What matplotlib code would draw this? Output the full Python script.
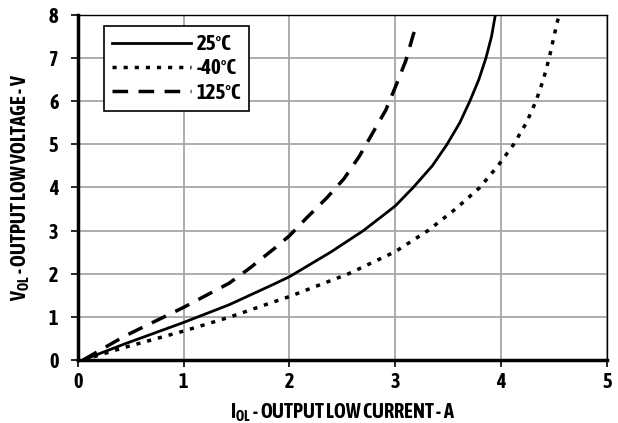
import os
import matplotlib
matplotlib.use("Agg")
import matplotlib.pyplot as plt
from matplotlib import font_manager as fm

# curves
x_25 = [0.05, 0.44, 1.0, 1.43, 1.855, 2.0, 2.39, 2.70, 3.0, 3.17, 3.35, 3.49, 3.61, 3.705, 3.79, 3.857, 3.91, 3.946]
y_25 = [0.0, 0.37, 0.87, 1.28, 1.76, 1.93, 2.5, 3.0, 3.57, 4.0, 4.5, 5.0, 5.5, 6.0, 6.5, 7.0, 7.5, 8.0]

x_m40 = [0.05, 0.44, 1.0, 1.43, 1.855, 2.0, 2.56, 3.0, 3.31, 3.57, 3.80, 3.97, 4.12, 4.24, 4.33, 4.40, 4.455, 4.50, 4.54]
y_m40 = [0.0, 0.29, 0.67, 0.99, 1.35, 1.47, 2.0, 2.51, 3.0, 3.5, 4.0, 4.5, 5.0, 5.5, 6.0, 6.5, 7.0, 7.5, 7.92]

x_125 = [0.05, 0.44, 1.0, 1.43, 1.62, 1.855, 2.0, 2.165, 2.35, 2.515, 2.66, 2.91, 3.01, 3.10, 3.17, 3.195]
y_125 = [0.0, 0.55, 1.22, 1.78, 2.12, 2.58, 2.88, 3.3, 3.75, 4.2, 4.72, 5.79, 6.38, 6.94, 7.54, 7.7]

series_labels = ['25°C', '-40°C', '125°C']


def is_bold(f):
    w = f.weight
    if isinstance(w, str):
        return w in ('bold', 'heavy', 'extra bold', 'black', 'semibold', 'demibold')
    return w >= 600


# look for a condensed bold face, the original uses one
font_name = 'Roboto'
font_stretch = 'normal'
cands = [f for f in fm.fontManager.ttflist
         if ('Narrow' in f.name or 'Condensed' in f.name) and is_bold(f)]
if cands:
    font_name = cands[0].name
else:
    for f in fm.fontManager.ttflist:
        if f.name == 'DejaVu Sans' and 'Condensed-Bold' in os.path.basename(f.fname):
            font_name = 'DejaVu Sans'
            font_stretch = 'condensed'
            break

plt.rcParams['font.family'] = [font_name, 'DejaVu Sans']
plt.rcParams['font.stretch'] = font_stretch
plt.rcParams['font.weight'] = 'bold'
plt.rcParams['mathtext.fontset'] = 'custom'
plt.rcParams['mathtext.rm'] = font_name + ':weight=bold:stretch=' + font_stretch
plt.rcParams['mathtext.bf'] = font_name + ':weight=bold:stretch=' + font_stretch

fig = plt.figure(figsize=(6.18, 4.23), dpi=100)
ax = fig.add_axes([0.126, 0.149, 0.856, 0.816])

ax.plot(x_25, y_25, color='black', lw=2.0, label=series_labels[0])
ax.plot(x_m40, y_m40, color='black', lw=2.5, linestyle=(0, (1.2, 2.0)), label=series_labels[1])
ax.plot(x_125, y_125, color='black', lw=2.5, linestyle=(0, (4.5, 3.0)), label=series_labels[2])

ax.set_xlim(0, 5)
ax.set_ylim(0, 8)
ax.set_xticks(range(0, 6))
ax.set_yticks(range(0, 9))
ax.grid(True, color='#a6a6a6', lw=1.3)
ax.set_axisbelow(True)

ax.spines['left'].set_linewidth(2.5)
ax.spines['bottom'].set_linewidth(2.5)
ax.spines['top'].set_linewidth(1.0)
ax.spines['right'].set_linewidth(1.0)
ax.tick_params(axis='both', direction='out', length=5, width=1.2, labelsize=14.5)
ax.tick_params(axis='y', pad=9)
ax.tick_params(axis='x', pad=4)

ax.set_xlabel(r'I$_{\mathregular{OL}}$ - OUTPUT LOW CURRENT - A', fontsize=14.5, fontweight='bold', labelpad=7)
ax.set_ylabel(r'V$_{\mathregular{OL}}$ - OUTPUT LOW VOLTAGE - V', fontsize=14.5, fontweight='bold', labelpad=12)

leg = ax.legend(loc='upper left', bbox_to_anchor=(0.049, 0.968), fancybox=False,
                edgecolor='black', framealpha=1, handlelength=3.8, fontsize=15,
                borderaxespad=0, handletextpad=0.25, labelspacing=0.2, borderpad=0.4)
leg.get_frame().set_linewidth(1.2)

fig.savefig('out.png', dpi=100)
